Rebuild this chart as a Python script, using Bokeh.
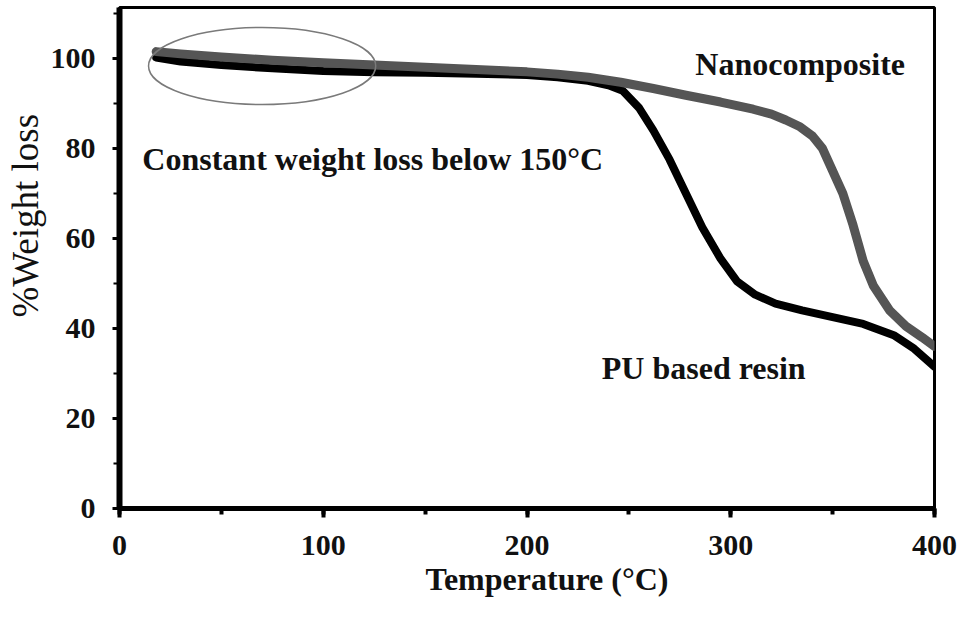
from bokeh.plotting import figure
from bokeh.models import Range1d, SingleIntervalTicker, Label, Title
from bokeh.embed import file_html
from bokeh.resources import INLINE

# ---- data ----
temp_pu = [18, 30, 50, 75, 100, 125, 150, 175, 200, 215, 230, 240, 247, 255, 262,
           270, 278, 286, 295, 303, 312, 322, 335, 350, 365, 380, 390, 400]
weight_pu = [100.2, 99.3, 98.5, 97.8, 97.2, 96.9, 96.8, 96.6, 96.3, 95.8, 95.0, 94.0, 92.8, 89.0, 84.0,
             77.5, 70.0, 62.5, 55.5, 50.5, 47.5, 45.5, 44.0, 42.5, 41.0, 38.5, 35.5, 31.5]

temp_nano = [18, 30, 50, 75, 100, 125, 150, 175, 200, 215, 230, 246, 262, 278, 295, 311,
             320, 327, 334, 340, 345, 349, 355, 360, 365, 370, 378, 386, 394, 400]
weight_nano = [101.5, 101.0, 100.3, 99.6, 99.0, 98.5, 98.0, 97.5, 97.0, 96.5, 95.8, 94.7, 93.3, 91.8, 90.3, 88.7,
               87.6, 86.3, 84.8, 82.8, 80.0, 76.0, 70.0, 63.0, 55.0, 49.5, 44.0, 40.5, 38.0, 36.0]

x_tick_interval = 100
y_tick_interval = 20
x_limits = (0, 400)
y_limits = (0, 111.3)

x_title = "Temperature (\u00b0C)"
y_title = "%Weight loss"

# annotation: ellipse around the low-temperature region
ellipse_center = (70, 98.3)
ellipse_size = (111.5, 17.1)

label_nano = ("Nanocomposite", 282.6, 98.7)
label_pu = ("PU based resin", 236.7, 31.3)
label_const = ("Constant weight loss below 150\u00b0C", 11.2, 77.6)

FONT = "Liberation Serif"
INK = "#111111"

p = figure(width=958, height=609, output_backend="svg", toolbar_location=None, title=None,
           x_range=Range1d(*x_limits), y_range=Range1d(*y_limits),
           min_border_left=116, min_border_right=24, min_border_top=7, min_border_bottom=101,
           background_fill_color="white", border_fill_color="white")

p.xgrid.visible = False
p.ygrid.visible = False
p.outline_line_color = "black"
p.outline_line_width = 3

p.line(temp_pu, weight_pu, line_color="black", line_width=8, line_join="round", line_cap="round")
p.line(temp_nano, weight_nano, line_color="#555555", line_width=9, line_join="round", line_cap="round")

p.ellipse(x=[ellipse_center[0]], y=[ellipse_center[1]], width=ellipse_size[0], height=ellipse_size[1],
          fill_color=None, line_color="#7a7a7a", line_width=1.5)

for txt, tx, ty in (label_nano, label_pu, label_const):
    p.add_layout(Label(x=tx, y=ty, text=txt, text_font=FONT, text_font_style="bold",
                       text_font_size="32px", text_color=INK, text_baseline="alphabetic",
                       text_align="left"))

# x axis
xa = p.xaxis[0]
xa.ticker = SingleIntervalTicker(interval=x_tick_interval, num_minor_ticks=2)
xa.axis_line_width = 5
xa.major_tick_in = 0
xa.major_tick_out = 9
xa.major_tick_line_width = 4
xa.minor_tick_in = 0
xa.minor_tick_out = 6
xa.minor_tick_line_width = 4
xa.major_label_standoff = 18

# y axis
ya = p.yaxis[0]
ya.ticker = SingleIntervalTicker(interval=y_tick_interval, num_minor_ticks=2)
ya.axis_line_width = 6
ya.major_tick_in = 0
ya.major_tick_out = 7
ya.major_tick_line_width = 3
ya.minor_tick_in = 0
ya.minor_tick_out = 6
ya.minor_tick_line_width = 2
ya.major_label_standoff = 17

for ax in (xa, ya):
    ax.major_label_text_font = FONT
    ax.major_label_text_font_style = "bold"
    ax.major_label_text_font_size = "30px"
    ax.major_label_text_color = INK
    ax.axis_line_color = "black"
    ax.major_tick_line_color = "black"
    ax.minor_tick_line_color = "black"

# axis titles as side-panel titles, placed along the axis like the reference
p.add_layout(Title(text=x_title, align="left", offset=306, standoff=2,
                   text_font=FONT, text_font_style="bold", text_font_size="32px",
                   text_color=INK), "below")
p.add_layout(Title(text=y_title, align="left", offset=191, standoff=4,
                   text_font=FONT, text_font_style="normal", text_font_size="37px",
                   text_color=INK), "left")

open("out.html", "w").write(file_html(p, INLINE))
